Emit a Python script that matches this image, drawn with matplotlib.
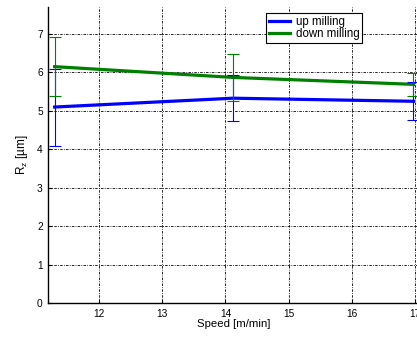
import matplotlib
matplotlib.use("Agg")
import matplotlib.pyplot as plt

speed = [11.3, 14.12, 16.97]
up_mean = [5.10, 5.33, 5.25]
up_err = [1.00, 0.60, 0.49]
down_mean = [6.15, 5.87, 5.69]
down_err = [0.77, 0.62, 0.29]
labels = ["up milling", "down milling"]
xticks = [12, 13, 14, 15, 16, 17]
yticks = [0, 1, 2, 3, 4, 5, 6, 7]

plt.rcParams['font.family'] = ['Liberation Sans', 'DejaVu Sans']
W, H = 417, 337
fig = plt.figure(figsize=(W / 100, H / 100), dpi=100)
x0, x1 = 48.3, 418.5
y0, y1 = 303.3, 7
ax = fig.add_axes([x0 / W, 1 - y0 / H, (x1 - x0) / W, (y0 - y1) / H])

blue = '#0000ff'
green = '#008000'
l1, = ax.plot(speed, up_mean, color=blue, lw=2.3, zorder=3)
l2, = ax.plot(speed, down_mean, color=green, lw=2.3, zorder=3)
ax.errorbar(speed, up_mean, yerr=up_err, fmt='none', ecolor=blue, elinewidth=0.8,
            capsize=4.3, capthick=0.8, zorder=4)
ax.errorbar(speed, down_mean, yerr=down_err, fmt='none', ecolor=green, elinewidth=0.8,
            capsize=4.3, capthick=0.8, zorder=4)

ax.set_xlim(11.2, 17.05)
ax.set_ylim(0, 7.7)
ax.set_xticks(xticks)
ax.set_yticks(yticks)
ax.tick_params(direction='in', length=3, width=0.8, labelsize=7.3, pad=4)
ax.grid(True, color='black', linestyle=(0, (3, 1.5, 1, 1.5)), linewidth=0.6)
for s in ['top', 'right']:
    ax.spines[s].set_visible(False)
for s in ['left', 'bottom']:
    ax.spines[s].set_linewidth(1.0)

ax.set_xlabel('Speed [m/min]', fontsize=8.2, labelpad=0)
ax.set_ylabel(r'R$_\mathregular{z}$ [µm]', fontsize=8.5, labelpad=5)

leg = ax.legend([l1, l2], labels, loc='upper left',
                bbox_to_anchor=((265.7 - x0) / (x1 - x0), (y0 - 13.3) / (y0 - y1)),
                fontsize=8.3, frameon=True, fancybox=False, edgecolor='black',
                handlelength=1.85, handletextpad=0.5, borderpad=0.25, labelspacing=0.0,
                borderaxespad=0)
leg.get_frame().set_linewidth(0.8)
leg.get_frame().set_alpha(1)

fig.savefig('out.png', dpi=100)
